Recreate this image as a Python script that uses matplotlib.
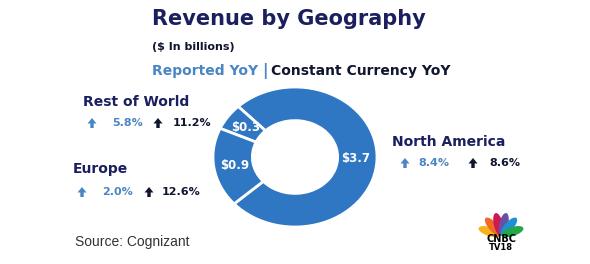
import numpy as np
import matplotlib.pyplot as plt
from matplotlib.patches import Ellipse, FancyArrow

# data
regions = ['North America', 'Rest of World', 'Europe']
revenue = [3.7, 0.3, 0.9]        # $ billions
reported_yoy = [8.4, 5.8, 2.0]   # %
constant_yoy = [8.6, 11.2, 12.6]  # %

W, H = 590, 264
navy = '#1b1f5e'
blue = '#2f77c3'
lblue = '#4a86c4'
dark = '#101530'

fig = plt.figure(figsize=(W / 100, H / 100), dpi=100)
fig.patch.set_facecolor('white')

# overlay axes in pixel units (y down) for the small arrows
ov = fig.add_axes([0, 0, 1, 1])
ov.set_xlim(0, W)
ov.set_ylim(H, 0)
ov.axis('off')


def px(x, y):
    return x / W, 1 - y / H


def txt(x, y, s, **kw):
    kw.setdefault('family', 'DejaVu Sans')
    fig.text(*px(x, y), s, va='center', ha='left', **kw)


def up_arrow(x, y, color):
    ov.add_patch(FancyArrow(x, y + 5, 0, -10, width=3.4, head_width=9,
                            head_length=5.5, length_includes_head=True,
                            color=color, lw=0))


# header
txt(152, 19, 'Revenue by Geography', size=15, weight='bold', color=navy)
txt(152, 47, '($ In billions)', size=8, weight='bold', color=dark)
txt(152, 71, 'Reported YoY', size=10, weight='bold', color=lblue)
txt(262, 71, '|', size=11, weight='bold', color=lblue)
txt(271, 71, 'Constant Currency YoY', size=10, weight='bold', color=dark)

# donut (stretched horizontally like the source image)
cx, cy, rx, ry = 295, 157, 82, 70
ax = fig.add_axes([(cx - rx) / W, 1 - (cy + ry) / H, 2 * rx / W, 2 * ry / H])
total = sum(revenue)
ax.pie(revenue, startangle=222, counterclock=True, colors=[blue] * 3,
       wedgeprops=dict(width=0.48, edgecolor='white', linewidth=2),
       autopct=lambda p: '$%.1f' % (p * total / 100), pctdistance=0.74,
       textprops=dict(color='white', size=8.5, weight='bold'))
ax.set_aspect('auto')
ax.set_xlim(-1, 1)
ax.set_ylim(-1, 1)
ax.axis('off')

# region labels: (name x, name y, row y, arrow1 x, num1 x, arrow2 x, num2 x)
layout = {
    'North America': (392, 142, 163, 405, 418, 473, 489),
    'Rest of World': (83, 102, 123, 92, 112, 158, 173),
    'Europe': (73, 169, 192, 82, 102, 149, 162),
}
for name, rep, con in zip(regions, reported_yoy, constant_yoy):
    nx, ny, ry2, a1, n1, a2, n2 = layout[name]
    txt(nx, ny, name, size=10, weight='bold', color=navy)
    up_arrow(a1, ry2, lblue)
    txt(n1, ry2, '%.1f%%' % rep, size=8, weight='bold', color=lblue)
    up_arrow(a2, ry2, dark)
    txt(n2, ry2, '%.1f%%' % con, size=8, weight='bold', color=dark)

txt(75, 242, 'Source: Cognizant', size=10, color='#333333',
    family='Liberation Sans')

# CNBC TV18 logo
lg = fig.add_axes([476 / W, 1 - 250 / H, 52 / W, 40 / H])
lg.set_xlim(0, 52)
lg.set_ylim(0, 40)
lg.axis('off')
feather_cols = ['#f7b21b', '#ef6a24', '#d0174f', '#6b4fa0', '#1f8fd6', '#22a74a']
angles = [162, 131, 103, 77, 49, 18]
for c, a in zip(feather_cols, angles):
    t = np.radians(a)
    lg.add_patch(Ellipse((25 + 12 * np.cos(t), 15 + 11 * np.sin(t)), 9, 23,
                         angle=a - 90, color=c, lw=0))
lg.text(25, 10.5, 'CNBC', ha='center', va='center', size=7, weight='heavy',
        family='DejaVu Sans', color='black', zorder=5)
lg.text(25, 2, 'TV18', ha='center', va='center', size=6, weight='bold',
        family='DejaVu Sans', color='black', zorder=5)

fig.savefig('out.png', dpi=100, facecolor='white')
